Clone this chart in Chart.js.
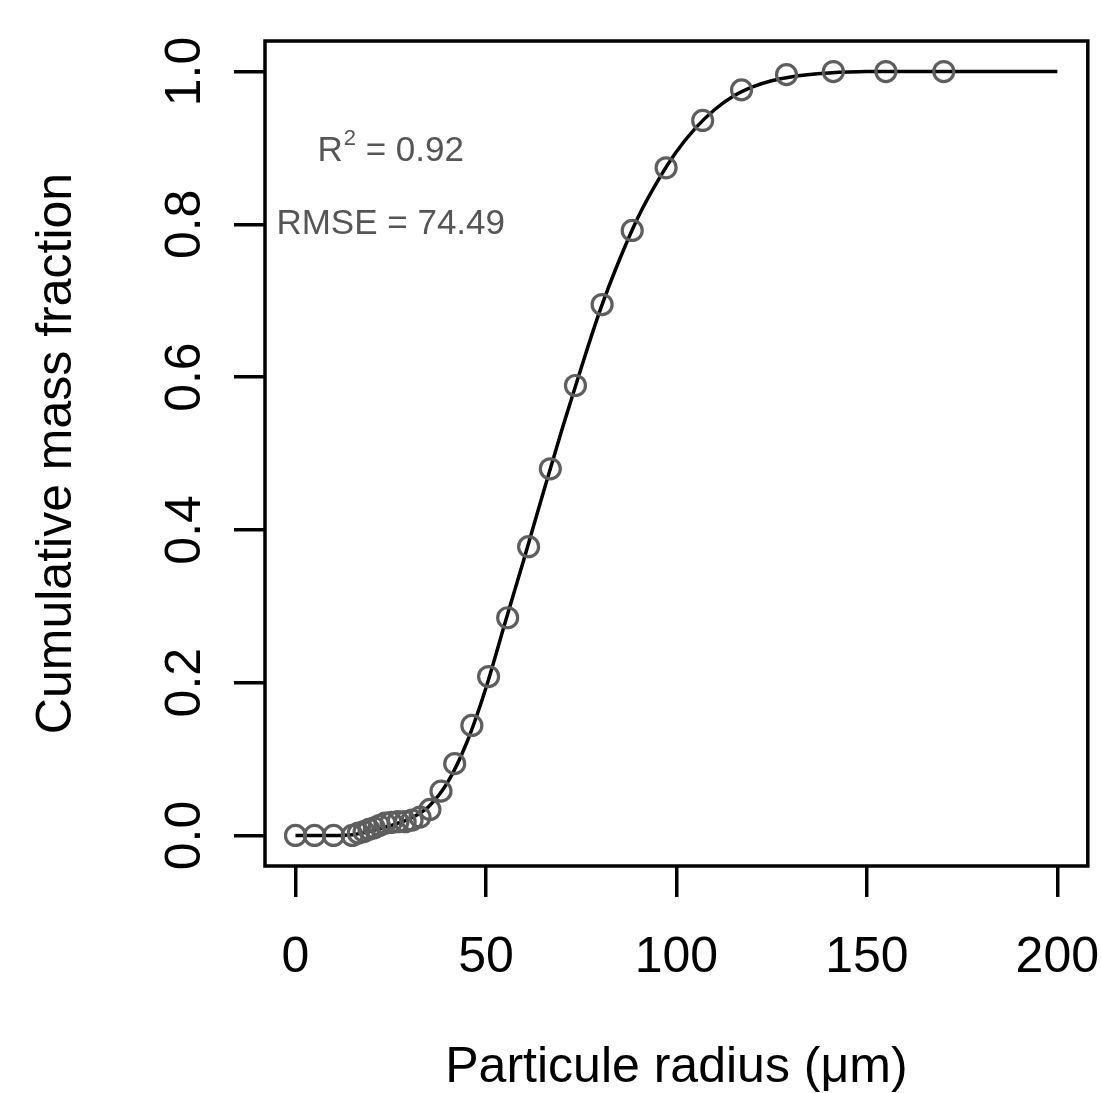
<!DOCTYPE html>
<html>
<head>
<meta charset="utf-8">
<script src="https://cdn.jsdelivr.net/npm/chart.js@4/dist/chart.umd.min.js"></script>
<style>
html,body{margin:0;padding:0;background:#ffffff;overflow:hidden}
#wrap{width:1101px;height:1093px;position:relative}
canvas{display:block}
</style>
</head>
<body>
<div id="wrap"><canvas id="c" width="1101" height="1093"></canvas></div>
<script>
// ---- observed points ----
const radiusObs   = [0, 5, 10, 14.9, 16.5, 18.0, 19.3, 20.7, 22.0, 23.5, 25.1, 26.9, 28.8, 30.6, 32.7, 35.3, 38.2, 41.8, 46.3, 50.7, 55.7, 61.2, 66.9, 73.5, 80.5, 88.4, 97.3, 106.9, 117.1, 128.9, 141.2, 155.0, 170.2];
const fractionObs = [0, 0, 0, 0.000, 0.003, 0.005, 0.008, 0.010, 0.013, 0.016, 0.017, 0.018, 0.018, 0.020, 0.024, 0.034, 0.058, 0.094, 0.144, 0.208, 0.285, 0.378, 0.480, 0.589, 0.695, 0.792, 0.874, 0.936, 0.976, 0.996, 1.000, 1.000, 1.000];

// ---- fitted curve ----
const radiusFit   = [0, 5, 10, 15, 20, 25, 30, 35, 40, 45, 50, 55, 60, 65, 70, 75, 80, 85, 90, 95, 100, 105, 110, 115, 120, 125, 130, 140, 150, 175, 200];
const fractionFit = [0, 0, 0, 0.001, 0.006, 0.013, 0.022, 0.038, 0.070, 0.122, 0.193, 0.278, 0.362, 0.448, 0.532, 0.612, 0.688, 0.753, 0.810, 0.856, 0.895, 0.926, 0.950, 0.968, 0.980, 0.988, 0.993, 0.998, 1.000, 1.000, 1.000];

// ---- axes ----
const xTicks = [0, 50, 100, 150, 200];
const yTicks = [0, 0.2, 0.4, 0.6, 0.8, 1.0];
const xTitle = 'Particule radius (\u03bcm)';
const yTitle = 'Cumulative mass fraction';

// ---- annotations ----
const r2Value = '0.92';
const rmseValue = '74.49';
const annotX = 25;
const annotYR2 = 0.895;
const annotYRMSE = 0.80;

const FONT = "'Liberation Sans', Arial, Helvetica, sans-serif";

const boxPlugin = {
  id: 'box',
  afterDraw(chart) {
    const a = chart.chartArea, ctx = chart.ctx;
    ctx.save();
    ctx.strokeStyle = '#000';
    ctx.lineWidth = 3.5;
    ctx.strokeRect(a.left, a.top, a.right - a.left, a.bottom - a.top);
    ctx.restore();
  }
};

const annotPlugin = {
  id: 'annot',
  afterDatasetsDraw(chart) {
    const ctx = chart.ctx, xs = chart.scales.x, ys = chart.scales.y;
    ctx.save();
    ctx.fillStyle = '#555555';
    ctx.textBaseline = 'middle';
    const big = '35px ' + FONT, small = '22px ' + FONT;
    ctx.font = big;
    const wR = ctx.measureText('R').width;
    const wRest = ctx.measureText(' = ' + r2Value).width;
    ctx.font = small;
    const w2 = ctx.measureText('2').width;
    const total = wR + w2 + 1 + wRest;
    const cx = xs.getPixelForValue(annotX);
    const cy = ys.getPixelForValue(annotYR2);
    let x = cx - total / 2;
    ctx.textAlign = 'left';
    ctx.font = big;
    ctx.fillText('R', x, cy);
    x += wR + 1;
    ctx.font = small;
    ctx.fillText('2', x, cy - 13);
    x += w2;
    ctx.font = big;
    ctx.fillText(' = ' + r2Value, x, cy);
    ctx.textAlign = 'center';
    ctx.fillText('RMSE = ' + rmseValue, cx, ys.getPixelForValue(annotYRMSE));
    ctx.restore();
  }
};

const obsData = radiusObs.map((r, i) => ({x: r, y: fractionObs[i]}));
const fitData = radiusFit.map((r, i) => ({x: r, y: fractionFit[i]}));

new Chart(document.getElementById('c'), {
  type: 'scatter',
  data: {
    datasets: [
      {
        label: 'fit',
        data: fitData,
        showLine: true,
        borderColor: '#000000',
        borderWidth: 3.5,
        pointRadius: 0,
        cubicInterpolationMode: 'monotone',
        fill: false,
        order: 1
      },
      {
        label: 'observed',
        data: obsData,
        showLine: false,
        pointStyle: 'circle',
        pointRadius: 10,
        pointBorderWidth: 3.2,
        borderColor: '#5e5e5e',
        backgroundColor: 'rgba(0,0,0,0)',
        pointBackgroundColor: 'rgba(0,0,0,0)',
        pointBorderColor: '#5e5e5e',
        order: 0
      }
    ]
  },
  options: {
    responsive: false,
    animation: false,
    devicePixelRatio: 1,
    elements: { point: { radius: 10, borderWidth: 3.2 } },
    layout: { padding: { left: 0, top: 41, right: 11, bottom: 0 } },
    plugins: { legend: { display: false }, tooltip: { enabled: false } },
    scales: {
      x: {
        type: 'linear',
        position: 'bottom',
        min: -8, max: 208,
        afterBuildTicks(s) { s.ticks = xTicks.map(v => ({value: v})); },
        afterFit(s) { s.height = 227; s.paddingLeft = 0; s.paddingRight = 0; },
        grid: { display: true, drawOnChartArea: false, drawTicks: true, tickLength: 31, lineWidth: 3.5, color: '#000' },
        border: { display: false },
        ticks: {
          color: '#000', padding: 31, maxRotation: 0, minRotation: 0, autoSkip: false,
          font: { family: FONT, size: 50 },
          callback: (v) => String(v)
        },
        title: {
          display: true, text: xTitle, color: '#000',
          font: { family: FONT, size: 50, lineHeight: 1 },
          padding: { top: 0, bottom: 0 }
        }
      },
      y: {
        type: 'linear',
        position: 'left',
        min: -0.04, max: 1.04,
        afterBuildTicks(s) { s.ticks = yTicks.map(v => ({value: v})); },
        afterFit(s) { s.width = 265; s.paddingTop = 0; s.paddingBottom = 0; },
        grid: { display: true, drawOnChartArea: false, drawTicks: true, tickLength: 31, lineWidth: 3.5, color: '#000' },
        border: { display: false },
        ticks: {
          color: '#000', padding: 13, minRotation: 90, maxRotation: 90, crossAlign: 'center', autoSkip: false,
          font: { family: FONT, size: 50 },
          callback: (v) => Number(v).toFixed(1)
        },
        title: {
          display: true, text: yTitle, color: '#000',
          font: { family: FONT, size: 50, lineHeight: 1 },
          padding: { top: 32, bottom: 0 }
        }
      }
    }
  },
  plugins: [boxPlugin, annotPlugin]
});
</script>
</body>
</html>
